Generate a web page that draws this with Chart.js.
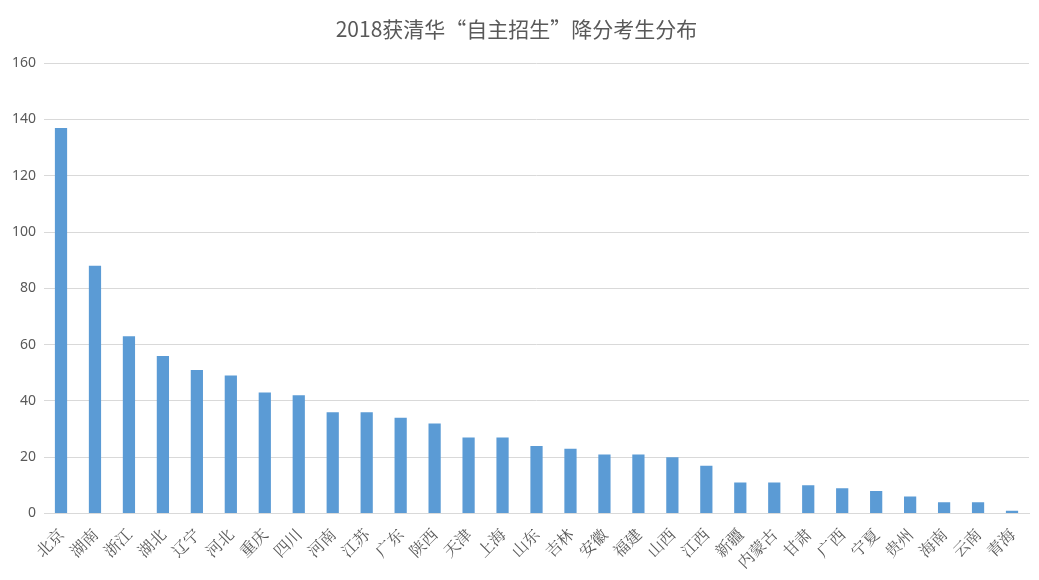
<!DOCTYPE html>
<html><head><meta charset="utf-8">
<script src="https://cdn.jsdelivr.net/npm/chart.js@4"></script>
<style>body{margin:0;background:#fff}#wrap{width:1039px;height:580px}</style>
</head><body><div id="wrap"><canvas id="c"></canvas></div>
<script>
const provinces = ["北京","湖南","浙江","湖北","辽宁","河北","重庆","四川","河南","江苏","广东","陕西","天津","上海","山东","吉林","安徽","福建","山西","江西","新疆","内蒙古","甘肃","广西","宁夏","贵州","海南","云南","青海"];
const counts = [137,88,63,56,51,49,43,42,36,36,34,32,27,27,24,23,21,21,20,17,11,11,10,9,8,6,4,4,1];

new Chart(document.getElementById('c'), {
    type: 'bar',
    data: {
        labels: provinces,
        datasets: [{ data: counts, backgroundColor: '#5b9bd5', barPercentage: 0.36, categoryPercentage: 1 }]
    },
    options: {
        responsive: true, maintainAspectRatio: false, animation: false,
        layout: { padding: { left: 4, right: 10, top: 10, bottom: 5 } },
        plugins: {
            legend: { display: false },
            title: { display: true, text: '2018获清华“自主招生”降分考生分布', color: '#595959',
                font: { size: 21, family: 'Noto Sans CJK SC', weight: 'normal' }, padding: { top: 6, bottom: 22 } }
        },
        scales: {
            y: { min: 0, max: 160, ticks: { stepSize: 20, color: '#595959', font: { size: 14, family: 'Noto Sans' }, padding: 8 },
                 grid: { color: '#d9d9d9', drawTicks: false }, border: { display: false } },
            x: { ticks: { color: '#595959', maxRotation: 45, minRotation: 45, font: { size: 16, family: 'Noto Serif CJK SC, Noto Sans CJK SC' } },
                 grid: { display: false }, border: { color: '#d9d9d9' } }
        }
    }
});
</script></body></html>
